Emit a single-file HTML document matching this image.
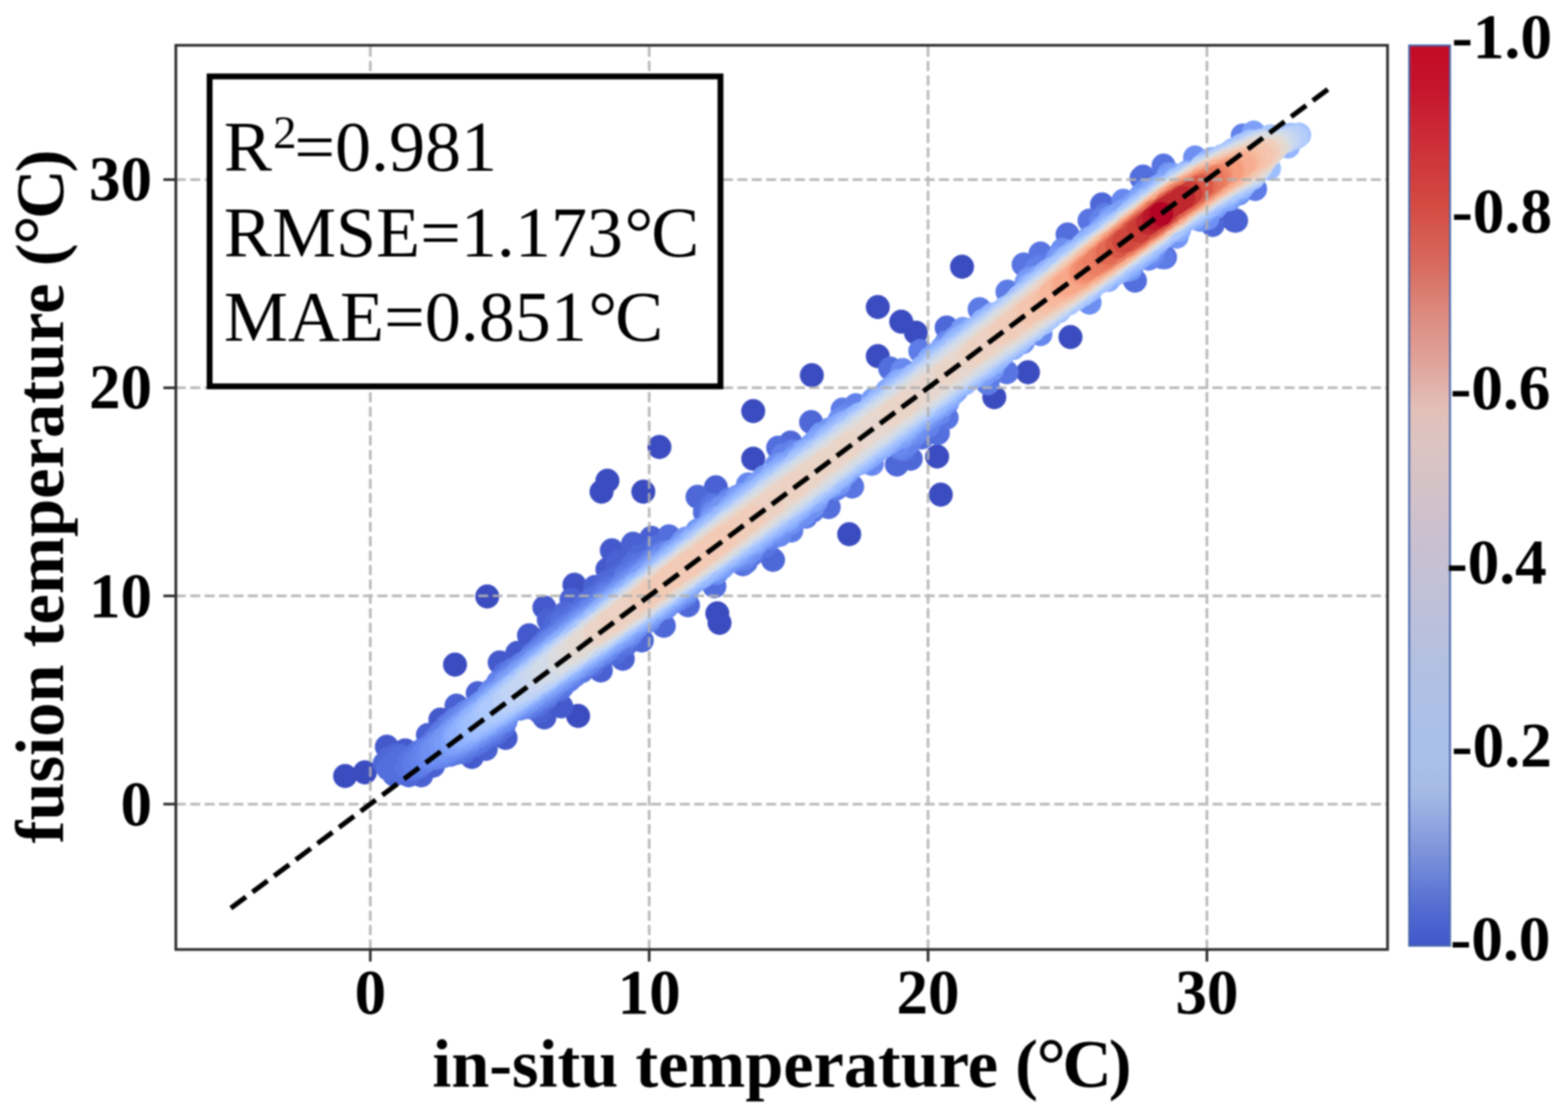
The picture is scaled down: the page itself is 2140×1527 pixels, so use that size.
<!DOCTYPE html>
<html lang="en">
<head>
<meta charset="utf-8">
<title>fusion temperature vs in-situ temperature</title>
<style>
html,body{margin:0;padding:0;background:#fff;}
body{width:2140px;height:1527px;overflow:hidden;}
svg{display:block;filter:blur(1.3px);}
text{font-family:"Liberation Serif","Times New Roman",serif;fill:#000;}
.b{font-weight:bold;}
.tk{font-size:86px;font-weight:bold;}
.lb{font-size:93.2px;font-weight:bold;}
.cb{font-size:86.5px;font-weight:bold;}
.st{font-size:98.4px;}
</style>
</head>
<body>
<svg xmlns="http://www.w3.org/2000/svg" width="2140" height="1527" viewBox="0 0 2140 1527">
<rect x="0" y="0" width="2140" height="1527" fill="#fff"/>
<g fill="none" stroke-width="32.8" stroke-linecap="round">
<path stroke="#3b4cc0" d="M471 1059h0M498 1054h0M621 907h0M789 977h0M821 671h0M829 656h0M878 671h0M979 837h0M982 850h0M1198 419h0M1230 439h0M1250 454h0M1198 486h0M1108 512h0M1028 561h0M1028 626h0M1357 542h0M1279 623h0M1284 675h0M1159 729h0M1313 364h0M1461 460h0M1685 301h0M900 610h0M665 814h0M1403 508h0"/>
<path stroke="#3f53c6" d="M784 798h0"/>
<path stroke="#445acc" d="M835 751h0M743 829h0M528 1019h0M553 1024h0M722 867h0M743 979h0M682 904h0M766 964h0M644 1033h0M829 777h0M706 891h0M601 982h0M690 1007h0"/>
<path stroke="#4961d2" d="M736 971h0M752 853h0M864 742h0M584 1003h0M1687 301h0M850 899h0M857 764h0M663 1022h0M623 963h0M820 915h0M749 846h0M812 801h0M843 772h0M780 818h0M575 1058h0M843 767h0M848 779h0M777 833h0M977 665h0M737 965h0M889 734h0M591 1045h0M652 946h0"/>
<path stroke="#4e68d8" d="M870 760h0M678 1001h0M829 794h0M952 678h0M758 851h0M771 837h0M839 892h0M1292 447h0M876 874h0M857 776h0M531 1035h0M1655 304h0M750 866h0M1504 279h0M558 1058h0M1243 626h0M1055 764h0M842 788h0M1107 576h0M886 754h0M875 761h0M538 1057h0M906 854h0M1224 634h0M1079 604h0M1655 307h0M1227 622h0M531 1037h0M541 1031h0M939 826h0M525 1042h0M539 1034h0M535 1037h0M546 1031h0M532 1040h0M543 1034h0M530 1044h0"/>
<path stroke="#536edd" d="M1131 692h0M735 961h0M767 849h0M796 832h0M548 1034h0M539 1041h0M543 1039h0M764 941h0M535 1045h0M546 1038h0M732 963h0M530 1049h0M543 1042h0M864 771h0M552 1037h0M555 1036h0M808 817h0M541 1046h0M537 1049h0M550 1042h0M784 838h0M1560 241h0M541 1049h0M546 1046h0M634 1026h0M798 826h0M1457 320h0M855 879h0M773 849h0M809 908h0M1062 611h0M962 699h0M549 1048h0M793 838h0M801 830h0M832 801h0M551 1046h0M727 965h0M844 885h0M1258 597h0M673 1001h0M822 808h0M898 746h0M810 821h0M1280 591h0M975 800h0M754 868h0M770 853h0M1558 243h0M689 919h0M819 812h0M556 1041h0M789 838h0M817 818h0M913 732h0M1014 770h0M647 1017h0M1549 383h0M1215 503h0M821 897h0M687 992h0M1270 585h0M630 1025h0"/>
<path stroke="#5875e1" d="M803 829h0M1100 705h0M972 689h0M572 1026h0M699 914h0M559 1039h0M826 810h0M766 858h0M671 1001h0M743 877h0M569 1029h0M610 990h0M853 786h0M655 1012h0M898 756h0M1397 361h0M566 1032h0M666 1004h0M864 779h0M1588 226h0M625 1027h0M787 842h0M645 1017h0M747 874h0M873 772h0M555 1048h0M602 999h0M1588 228h0M1590 351h0M1018 767h0M1292 570h0M761 863h0M564 1036h0M851 877h0M567 1048h0M746 952h0M652 1012h0M902 755h0M621 1028h0M838 803h0M561 1049h0M779 849h0M675 997h0M768 936h0M1420 346h0M619 983h0M1163 664h0M615 1030h0M600 1002h0M726 893h0M593 1009h0M794 916h0M798 836h0M1109 697h0M1487 301h0M662 1006h0M637 1020h0M558 1047h0M572 1046h0M580 1021h0M737 883h0M649 1013h0M782 847h0M565 1037h0M608 995h0M822 815h0M882 767h0M1027 756h0M657 1008h0M1045 744h0M563 1042h0M1374 508h0M618 984h0"/>
<path stroke="#5d7ce6" d="M773 855h0M777 928h0M611 1030h0M711 907h0M1233 613h0M891 763h0M623 980h0M613 991h0M579 1024h0M568 1037h0M574 1043h0M936 813h0M1508 293h0M632 1020h0M855 790h0M1080 724h0M830 810h0M721 965h0M680 931h0M565 1043h0M567 1044h0M622 1024h0M816 822h0M868 781h0M1150 559h0M571 1035h0M802 833h0M1375 398h0M751 945h0M975 693h0M598 1007h0M578 1041h0M625 1023h0M1713 258h0M994 682h0M1256 479h0M977 693h0M784 922h0M605 1032h0M1420 363h0M792 841h0M897 759h0M1146 663h0M640 1015h0M729 959h0M605 1001h0M702 915h0M1586 351h0M694 921h0M1245 598h0M629 977h0M581 1039h0M690 984h0M749 945h0M1141 667h0M1337 422h0M570 1041h0M577 1031h0M873 778h0M584 1021h0M1348 523h0M758 869h0"/>
<path stroke="#6282ea" d="M1239 606h0M622 984h0M1267 581h0M1053 734h0M769 861h0M601 1033h0M1168 553h0M743 948h0M635 972h0M865 785h0M582 1024h0M579 1029h0M636 1016h0M854 794h0M861 866h0M749 877h0M779 854h0M736 953h0M674 994h0M679 935h0M826 890h0M585 1036h0M1227 611h0M668 945h0M574 1038h0M767 863h0M671 942h0M618 989h0M806 904h0M732 956h0M631 977h0M1414 367h0M690 926h0M858 868h0M805 833h0M596 1034h0M692 925h0M653 1006h0M739 950h0M717 904h0M1696 185h0M1502 301h0M638 1014h0M818 894h0M825 818h0M1082 616h0M626 982h0M782 852h0M887 770h0M784 850h0M642 1012h0M1069 621h0M594 1014h0M846 802h0M639 970h0M669 996h0M580 1035h0M658 1003h0M732 892h0M804 905h0M754 874h0M831 886h0M765 866h0M755 939h0M618 992h0M926 818h0M587 1022h0M590 1033h0M1016 762h0M677 990h0M589 1019h0M613 1025h0M711 910h0M707 913h0M629 1018h0M807 902h0"/>
<path stroke="#6788ee" d="M1574 347h0M617 1023h0M585 1026h0M1085 619h0M798 908h0M931 739h0M920 821h0M1442 353h0M909 829h0M757 873h0M793 845h0M1190 633h0M1064 730h0M742 885h0M822 890h0M807 834h0M1232 505h0M902 759h0M597 1012h0M721 903h0M686 984h0M679 938h0M625 1019h0M672 943h0M644 1009h0M583 1033h0M650 1006h0M883 774h0M813 897h0M613 998h0M605 1028h0M886 847h0M909 754h0M665 997h0M724 900h0M1292 467h0M621 1021h0M804 837h0M674 942h0M631 979h0M660 1000h0M1533 274h0M738 949h0M811 831h0M794 910h0M778 922h0M745 944h0M1226 607h0M599 1029h0M688 982h0M831 815h0M691 980h0M1568 353h0M788 849h0M593 1018h0M684 934h0M1282 564h0M1538 279h0M768 866h0M737 891h0M755 937h0M593 1030h0M1021 661h0M1251 591h0M1019 757h0M833 814h0M863 861h0M822 823h0M1247 586h0M971 701h0M735 950h0M1152 569h0M724 957h0M1002 765h0M848 871h0M774 924h0M911 827h0M862 791h0M588 1030h0M995 685h0M1020 665h0M710 967h0M730 897h0M687 932h0M797 843h0M1018 669h0M1691 264h0M881 776h0M636 977h0M854 797h0M714 964h0M765 930h0M716 909h0M1145 576h0M844 806h0M1420 456h0M819 827h0"/>
<path stroke="#6c8ff1" d="M651 963h0M896 766h0M889 841h0M858 864h0M607 1025h0M1079 714h0M589 1028h0M665 951h0M676 988h0M983 693h0M1083 710h0M592 1023h0M1109 692h0M718 960h0M622 991h0M655 960h0M645 969h0M708 916h0M605 1008h0M679 986h0M769 926h0M1648 298h0M638 976h0M840 876h0M606 1025h0M1450 341h0M1487 413h0M952 724h0M761 931h0M613 1001h0M1146 573h0M1059 726h0M658 958h0M762 872h0M1060 635h0M1097 703h0M625 989h0M1562 261h0M695 927h0M1293 549h0M684 982h0M775 862h0M865 858h0M597 1018h0M1631 215h0M753 880h0M649 967h0M754 879h0M879 780h0M1026 751h0M653 1001h0M809 897h0M869 856h0M593 1025h0M779 859h0M774 863h0M873 785h0M1064 722h0M763 929h0M937 808h0M978 782h0M1023 753h0M800 842h0M765 871h0M817 829h0M749 884h0M868 789h0M741 944h0M760 875h0M824 886h0M783 857h0M615 1021h0M1252 584h0M693 975h0M611 1022h0M794 848h0M599 1024h0M1544 367h0M860 795h0M655 999h0M1273 565h0M604 1012h0"/>
<path stroke="#7295f4" d="M601 1016h0M1286 475h0M884 844h0M642 974h0M791 909h0M850 868h0M779 917h0M606 1009h0M783 914h0M690 932h0M1121 592h0M749 938h0M1132 586h0M609 1006h0M936 735h0M671 989h0M642 1007h0M729 951h0M1039 656h0M726 953h0M844 872h0M664 993h0M1114 684h0M896 768h0M628 1014h0M659 996h0M768 925h0M646 971h0M889 774h0M632 1012h0M1240 591h0M1638 300h0M1265 571h0M812 894h0M668 990h0M613 1003h0M703 922h0M730 900h0M1234 596h0M1006 678h0M791 851h0M1015 755h0M796 904h0M1043 651h0M985 696h0M904 830h0M771 922h0M825 824h0M854 865h0M1651 287h0M1515 297h0M718 958h0M847 807h0M789 853h0M821 887h0M792 907h0M786 911h0M842 810h0M882 780h0M830 880h0M919 752h0M639 1008h0M663 957h0M1595 238h0M895 770h0M1541 368h0M1404 381h0M911 825h0M1008 759h0M605 1014h0M1145 660h0M622 1016h0M974 704h0M837 815h0M707 919h0M902 766h0M609 1009h0M1396 467h0M774 919h0M825 883h0M834 878h0M688 977h0M922 816h0M671 950h0M1606 323h0M814 891h0M1049 728h0M606 1019h0M601 1021h0M1088 699h0M851 866h0M980 777h0M1248 583h0M668 953h0M831 821h0M699 926h0"/>
<path stroke="#779af7" d="M1112 682h0M1033 741h0M877 785h0M854 803h0M632 985h0M986 774h0M661 960h0M728 951h0M873 788h0M721 909h0M1042 734h0M754 932h0M906 827h0M1220 525h0M618 999h0M725 953h0M894 836h0M1286 553h0M629 988h0M881 845h0M1314 449h0M708 963h0M940 801h0M744 940h0M982 774h0M678 945h0M913 757h0M808 895h0M724 907h0M612 1017h0M739 894h0M956 723h0M634 1009h0M1072 712h0M683 941h0M1084 625h0M1117 597h0M714 915h0M608 1014h0M718 912h0M619 998h0M1305 460h0M888 777h0M646 1002h0M684 978h0M1056 723h0M1013 676h0M836 818h0M1225 520h0M617 1014h0M1547 278h0M1561 267h0M925 812h0M747 936h0M916 819h0M845 869h0M697 969h0M693 933h0M1035 738h0M1064 717h0M686 939h0M972 710h0M1556 268h0M1343 512h0M1568 262h0M880 784h0M908 763h0M1069 633h0M1445 352h0M806 842h0M747 889h0M1660 282h0M1401 385h0M815 835h0M742 892h0M935 805h0M1115 601h0M819 832h0M858 801h0M994 766h0M1094 617h0M1108 607h0M1678 272h0M1503 311h0M702 926h0M829 823h0M1602 239h0M851 807h0M1354 504h0M1041 656h0M657 965h0M1016 750h0M1112 603h0M862 798h0M1016 675h0M923 750h0M1191 546h0M637 982h0M870 792h0"/>
<path stroke="#7da0f9" d="M706 923h0M703 965h0M776 866h0M670 986h0M674 950h0M721 953h0M1008 681h0M765 875h0M728 904h0M1229 596h0M779 864h0M927 748h0M618 1004h0M1133 664h0M697 931h0M625 994h0M799 848h0M944 734h0M621 1012h0M998 690h0M773 869h0M736 943h0M674 984h0M734 900h0M1340 509h0M677 981h0M802 898h0M616 1013h0M781 913h0M749 934h0M917 756h0M890 836h0M1027 742h0M1351 431h0M1031 663h0M1275 559h0M712 919h0M857 859h0M984 771h0M652 969h0M1005 684h0M1592 246h0M978 707h0M1711 181h0M1569 344h0M1108 684h0M1514 303h0M1156 645h0M711 959h0M624 1010h0M1222 599h0M730 947h0M928 809h0M1530 293h0M867 852h0M967 716h0M691 937h0M788 907h0M634 1007h0M822 831h0M1003 686h0M1485 326h0M1285 550h0M834 874h0M878 844h0M756 882h0M1691 261h0M701 928h0M1146 579h0M1275 485h0M1524 294h0M863 855h0M1283 553h0M930 808h0M1116 677h0M860 857h0M1125 595h0M1415 379h0M737 941h0M1534 291h0M656 966h0M1554 273h0M1601 241h0M1079 630h0M617 1009h0M1011 753h0M1149 651h0M1069 636h0M874 847h0M804 846h0M1535 369h0M1039 733h0M1533 288h0"/>
<path stroke="#82a6fb" d="M800 898h0M1293 544h0M1559 271h0M1567 342h0M629 1007h0M775 915h0M1077 708h0M820 884h0M1057 645h0M866 797h0M1065 640h0M1002 758h0M813 839h0M754 885h0M638 1004h0M1083 701h0M1551 355h0M623 1001h0M852 862h0M1543 363h0M1666 274h0M691 971h0M657 993h0M759 926h0M960 786h0M891 778h0M1263 566h0M899 829h0M908 765h0M1079 705h0M769 874h0M646 976h0M1519 300h0M783 863h0M1506 313h0M898 772h0M1021 674h0M1080 703h0M1054 647h0M829 877h0M973 778h0M1573 259h0M734 902h0M790 904h0M1238 586h0M837 872h0M654 995h0M1302 536h0M1001 691h0M1258 570h0M720 914h0M1673 272h0M1211 533h0M1006 755h0M1182 627h0M936 742h0M756 928h0M1120 601h0M1300 468h0M833 823h0M1214 604h0M842 816h0M640 1002h0M1098 615h0M646 999h0M740 897h0M783 909h0M1277 556h0M945 796h0M665 960h0M816 886h0M831 825h0M952 791h0M1142 583h0M1039 731h0M1227 520h0M716 918h0M851 810h0M792 856h0M1269 489h0M1126 667h0M715 954h0M1205 540h0M1184 625h0M626 998h0M752 930h0M1313 458h0M839 869h0M1189 622h0M630 994h0M767 920h0M788 859h0M1305 533h0M1320 454h0M1074 636h0M641 981h0M1518 304h0M681 977h0M1330 514h0M1113 605h0M1580 255h0M1584 253h0M632 991h0M906 823h0"/>
<path stroke="#88abfd" d="M1145 652h0M1109 681h0M1579 332h0M1133 593h0M664 988h0M1030 738h0M622 1006h0M1097 688h0M979 772h0M856 806h0M1609 314h0M1497 320h0M912 763h0M1295 543h0M1196 616h0M672 955h0M635 988h0M1152 577h0M1218 529h0M896 775h0M958 787h0M1513 382h0M1630 297h0M1773 184h0M1559 349h0M1404 389h0M1056 719h0M943 796h0M1205 610h0M1283 480h0M1070 710h0M824 831h0M761 881h0M1011 683h0M1245 579h0M1016 679h0M1465 343h0M839 819h0M963 722h0M996 696h0M869 848h0M1164 571h0M1461 347h0M1234 588h0M1121 669h0M913 762h0M1119 673h0M1159 574h0M1544 359h0M967 780h0M1093 693h0M1620 235h0M1067 641h0M1114 675h0M994 697h0M916 815h0M723 913h0M764 921h0M627 1004h0M747 893h0M886 836h0M1556 276h0M850 812h0M950 791h0M1062 646h0M1141 586h0M1325 450h0M1560 273h0M794 855h0M726 946h0M1165 636h0M727 910h0M709 957h0M1657 279h0M1512 307h0M686 973h0M1033 734h0M823 880h0M946 735h0M1044 727h0M910 819h0M820 835h0M698 964h0M893 831h0M659 990h0M1071 639h0M1549 355h0M1627 297h0M1174 632h0M1644 287h0M670 957h0M1669 271h0M1051 721h0M739 901h0M1184 623h0M1632 294h0M640 984h0M770 916h0M954 729h0M1679 266h0M889 781h0M1051 654h0M1188 620h0M1200 544h0M777 870h0M636 1000h0M741 935h0M653 973h0M1302 467h0M1450 355h0"/>
<path stroke="#8fb1fe" d="M1513 379h0M751 891h0M646 996h0M943 739h0M1579 261h0M1383 475h0M1358 494h0M1044 660h0M829 828h0M1259 501h0M1136 659h0M925 754h0M1201 609h0M812 887h0M1349 500h0M1249 573h0M1430 370h0M1654 217h0M746 895h0M896 828h0M971 777h0M1172 566h0M1554 352h0M1492 323h0M805 891h0M1315 459h0M727 944h0M1075 704h0M963 782h0M774 913h0M1090 626h0M695 966h0M985 705h0M1269 559h0M859 805h0M1264 497h0M680 950h0M1252 570h0M644 981h0M628 1002h0M881 839h0M817 838h0M1524 373h0M903 823h0M1020 742h0M632 996h0M707 928h0M717 951h0M1229 523h0M768 878h0M1273 555h0M1036 666h0M1362 490h0M1427 374h0M1058 716h0M884 787h0M1545 286h0M1478 334h0M887 784h0M1151 646h0M1262 564h0M635 992h0M800 852h0M965 722h0M1601 314h0M1317 523h0M1127 599h0M1326 516h0M803 850h0M722 947h0M1425 374h0M1308 463h0M706 958h0M649 977h0M1209 604h0M1100 619h0M777 910h0M1528 370h0M1149 583h0M1027 673h0M1103 616h0M687 944h0M1093 625h0M1286 482h0M1231 586h0M1132 660h0M1233 522h0M903 772h0M1341 438h0M1273 491h0M703 960h0M872 796h0M757 887h0M1167 633h0M924 807h0M1502 318h0M743 933h0M950 735h0M975 773h0M785 865h0M1237 518h0M1087 694h0M808 846h0M801 893h0M1265 561h0M666 984h0M921 758h0M972 716h0M1435 367h0M1144 587h0M695 938h0M770 877h0M1004 691h0M1353 496h0M866 801h0"/>
<path stroke="#94b6ff" d="M1205 605h0M932 801h0M780 907h0M1169 569h0M653 990h0M1456 351h0M732 908h0M1281 549h0M1355 429h0M807 888h0M1343 503h0M1219 595h0M1081 698h0M1532 366h0M1055 652h0M847 816h0M1198 547h0M1012 747h0M1699 251h0M1614 239h0M998 757h0M795 896h0M1561 344h0M879 791h0M1696 255h0M1131 597h0M1369 483h0M988 763h0M1028 736h0M733 939h0M1042 725h0M1097 622h0M1483 333h0M1135 595h0M638 997h0M1692 256h0M963 725h0M1042 663h0M790 862h0M1570 338h0M995 759h0M792 898h0M646 993h0M918 811h0M1275 552h0M641 989h0M976 714h0M638 992h0M1234 583h0M1323 518h0M1390 468h0M1176 626h0M956 785h0M1143 650h0M1584 258h0M868 799h0M935 798h0M1032 671h0M747 929h0M1061 649h0M1154 581h0M1195 550h0M684 947h0M658 987h0M1616 302h0M1319 457h0M919 761h0M1223 591h0M710 926h0M1647 221h0M1180 623h0M933 750h0M1123 666h0M1540 360h0M841 864h0M1594 318h0M1649 282h0M1014 685h0M1310 464h0M657 972h0M980 712h0M1129 662h0M735 937h0M1604 245h0M1136 656h0M1522 373h0M1302 471h0M1516 308h0M661 985h0M651 979h0M1020 680h0M942 742h0M1643 284h0M1188 556h0M1634 291h0M1296 536h0M939 745h0M1016 743h0M746 898h0M1175 565h0M876 794h0M1259 503h0M1758 200h0M1488 331h0M1212 599h0M1675 266h0M1444 363h0M1247 512h0M931 751h0M985 765h0M984 709h0M648 991h0M1222 531h0M783 868h0M821 878h0M648 982h0M1295 476h0M665 964h0M1090 690h0M1140 592h0M1569 270h0M1034 730h0M1241 577h0M1116 670h0M990 704h0M909 769h0M814 843h0M1193 612h0M999 754h0M1082 696h0M921 808h0"/>
<path stroke="#9abbff" d="M1046 721h0M1212 539h0M1215 596h0M811 845h0M1282 487h0M1573 267h0M693 941h0M847 860h0M1171 628h0M1293 538h0M868 845h0M1397 400h0M678 975h0M901 776h0M674 977h0M1272 553h0M1227 587h0M1553 281h0M1440 366h0M1088 630h0M1565 272h0M1050 659h0M1197 609h0M1529 367h0M1220 533h0M1345 500h0M952 786h0M915 765h0M848 859h0M1147 647h0M877 839h0M1157 580h0M777 874h0M1505 383h0M1165 574h0M793 860h0M1588 256h0M1077 699h0M1408 390h0M1238 578h0M1142 591h0M1042 665h0M1272 495h0M960 781h0M852 856h0M642 993h0M1152 642h0M1524 304h0M1331 449h0M1067 706h0M929 801h0M1289 540h0M721 918h0M1017 684h0M837 825h0M669 962h0M894 827h0M1205 545h0M1116 611h0M1070 703h0M1270 497h0M1025 679h0M1611 305h0M861 849h0M1591 320h0M989 706h0M1657 274h0M1121 607h0M785 902h0M1024 736h0M684 970h0M683 971h0M1113 613h0M832 869h0M1336 506h0M1314 521h0M1063 708h0M1308 526h0M1069 645h0M865 846h0M1210 542h0M668 979h0M1264 502h0M1587 324h0M967 776h0M978 768h0M1253 566h0M829 871h0M1524 369h0M1334 507h0M1061 709h0M657 975h0M703 933h0M1353 493h0M1251 512h0M1466 347h0M1281 546h0M1180 564h0M1080 696h0M793 896h0M1161 578h0M1039 725h0M920 762h0M680 953h0M1495 326h0M800 856h0M725 915h0M1097 683h0M752 893h0M1328 453h0M1387 469h0M1486 397h0M1448 361h0M1284 543h0M1317 519h0M1621 298h0M1549 351h0M1007 747h0M1416 385h0M700 936h0M1459 353h0M1243 518h0M814 881h0M1303 529h0M689 967h0M1489 395h0M1256 508h0M1172 571h0M1126 604h0M1281 489h0M1217 537h0M884 790h0M1112 671h0M1258 507h0M1355 491h0M1147 589h0M1100 680h0M1298 532h0M1003 696h0M1014 742h0M940 793h0M1371 480h0"/>
<path stroke="#9fbfff" d="M1195 554h0M663 969h0M1165 631h0M947 740h0M1475 341h0M1033 673h0M1054 657h0M661 972h0M1547 353h0M1665 269h0M1682 205h0M1608 308h0M962 778h0M1645 282h0M1604 310h0M1184 562h0M1424 380h0M1086 634h0M880 835h0M1571 334h0M1098 625h0M1184 617h0M997 702h0M1133 599h0M1247 516h0M856 852h0M1189 612h0M715 924h0M1206 600h0M826 872h0M1093 685h0M1394 403h0M1154 584h0M1563 340h0M647 988h0M1053 714h0M971 722h0M1339 445h0M1762 184h0M1334 449h0M657 983h0M1066 649h0M1298 477h0M1109 673h0M832 830h0M836 865h0M805 853h0M980 765h0M1228 530h0M1180 619h0M1262 558h0M1349 438h0M1130 603h0M1081 638h0M809 849h0M1095 628h0M1455 357h0M667 978h0M1008 693h0M1426 379h0M1411 390h0M1393 464h0M845 859h0M1358 488h0M1137 651h0M946 788h0M1029 677h0M1242 573h0M1476 341h0M1056 711h0M866 804h0M1543 290h0M765 884h0M956 734h0M959 731h0M1674 264h0M1123 662h0M730 912h0M999 700h0M1509 316h0M840 825h0M908 773h0M1567 337h0M1292 482h0M1337 502h0M1679 261h0M674 961h0M806 886h0M1326 456h0M676 958h0M1217 591h0M992 757h0M1204 548h0M1465 349h0M1003 749h0M845 821h0M885 832h0M977 717h0M1379 473h0M1017 739h0M1060 709h0M1177 568h0M1048 663h0M1148 643h0M1311 468h0M1331 507h0M1541 355h0M667 968h0M1598 314h0M1515 312h0M1606 245h0M942 790h0M1110 618h0M1693 199h0M1698 197h0M1113 669h0M925 759h0M1374 476h0M1077 641h0M1306 472h0M761 887h0M1012 691h0M762 917h0M1732 230h0M1198 605h0M779 873h0M1541 293h0M1311 521h0M1007 746h0M1470 346h0M691 964h0M1296 479h0M1391 405h0M1501 322h0M825 837h0M1103 623h0M680 970h0M1420 384h0M1159 582h0M966 727h0M899 821h0M652 985h0M1329 508h0M1049 716h0M1361 485h0M749 926h0M892 785h0M1193 557h0M1241 520h0M739 905h0M881 834h0M1481 399h0M802 888h0M1221 588h0M1364 427h0M931 754h0M1654 275h0M1371 421h0M905 817h0"/>
<path stroke="#a5c3fe" d="M1537 295h0M1264 556h0M1478 402h0M1400 458h0M1104 676h0M1619 238h0M1582 326h0M1445 425h0M1129 657h0M1470 407h0M851 817h0M1425 440h0M1025 681h0M671 974h0M685 951h0M752 895h0M797 859h0M782 871h0M889 828h0M1203 601h0M1276 495h0M786 899h0M1707 193h0M1468 348h0M1106 621h0M703 956h0M1629 291h0M1411 450h0M1156 636h0M1117 665h0M1519 371h0M848 819h0M1500 385h0M1423 441h0M1466 409h0M1435 373h0M1178 620h0M913 770h0M817 878h0M1579 327h0M1441 368h0M1508 379h0M1059 656h0M1133 653h0M1430 435h0M869 841h0M1710 243h0M809 883h0M914 810h0M1386 411h0M1692 201h0M1519 310h0M1419 443h0M1171 574h0M1195 606h0M861 810h0M935 794h0M1037 673h0M662 978h0M1153 587h0M1042 669h0M1245 569h0M676 971h0M1075 644h0M1232 528h0M758 919h0M1190 559h0M786 869h0M972 769h0M1398 402h0M882 793h0M994 706h0M1346 495h0M1530 302h0M1348 441h0M921 804h0M1432 376h0M1227 532h0M754 922h0M695 960h0M1062 653h0M1368 425h0M1686 256h0M976 721h0M701 957h0M1223 585h0M1433 433h0M1384 413h0M896 783h0M1079 693h0M1380 416h0M1677 209h0M1459 414h0M658 980h0M672 965h0M1452 361h0M969 771h0M686 965h0M972 724h0M1137 650h0M1245 519h0M1081 640h0M1586 260h0M1493 389h0M1017 689h0M1032 726h0M1161 631h0M1497 386h0M1474 403h0M1534 299h0M965 773h0M995 753h0M1395 459h0M708 952h0M1221 537h0M1773 184h0M901 780h0M1028 729h0"/>
<path stroke="#aac7fd" d="M799 890h0M1668 213h0M1700 248h0M1560 340h0M1092 632h0M767 912h0M1042 719h0M1690 253h0M1325 510h0M1662 217h0M1417 388h0M1282 491h0M682 956h0M716 947h0M684 954h0M1600 311h0M1640 227h0M1114 616h0M710 951h0M1566 275h0M896 821h0M1142 596h0M1373 475h0M1447 365h0M1366 480h0M1549 288h0M1551 346h0M1319 513h0M720 922h0M1343 496h0M702 937h0M1232 578h0M839 861h0M699 940h0M718 945h0M1455 416h0M1373 422h0M1440 371h0M929 759h0M1448 420h0M1555 344h0M1484 338h0M864 808h0M1603 308h0M857 814h0M1660 269h0M1022 685h0M1325 459h0M1512 316h0M725 941h0M1269 550h0M775 906h0M1126 608h0M997 705h0M775 878h0M1542 294h0M795 892h0M1734 186h0M1289 487h0M940 750h0M688 951h0M1009 742h0M1139 599h0M1271 500h0M911 810h0M1200 554h0M1601 251h0M1554 285h0M1088 636h0M1271 548h0M665 974h0M821 842h0M1657 270h0M1183 566h0M1291 534h0M1086 637h0M691 949h0M1401 454h0M1060 705h0M792 865h0M1594 256h0M1316 467h0M1297 529h0M879 797h0M1096 680h0M1038 721h0M955 738h0M1655 221h0M813 848h0M1471 348h0M822 841h0M693 959h0M816 846h0M1338 499h0M1049 665h0M1254 561h0M744 903h0M1102 675h0M1235 575h0M1287 489h0M1306 522h0M1609 247h0M888 790h0M1282 540h0M1218 540h0M1275 545h0M1645 226h0M1212 592h0M1451 364h0M1679 258h0M1538 297h0M1253 514h0M952 741h0M1704 244h0M764 913h0M1561 281h0M765 886h0M1696 248h0M1354 487h0M1380 469h0M796 862h0M1021 687h0"/>
<path stroke="#afcafc" d="M1304 476h0M935 754h0M1403 400h0M1526 363h0M1633 286h0M695 946h0M1479 397h0M1287 536h0M681 965h0M1556 284h0M1677 259h0M1597 254h0M1343 446h0M1386 465h0M1618 295h0M746 925h0M907 813h0M1413 445h0M1678 210h0M1184 612h0M830 835h0M670 970h0M734 933h0M827 869h0M1704 198h0M1585 320h0M1614 244h0M970 727h0M1227 581h0M1275 498h0M1413 393h0M1611 300h0M1527 362h0M1620 294h0M1534 357h0M1083 689h0M1463 409h0M1360 434h0M1434 377h0M1430 432h0M1618 242h0M1489 336h0M1185 611h0M1410 396h0M698 955h0M1683 255h0M1256 558h0M1363 431h0M1424 384h0M873 802h0M1158 632h0M1335 453h0M1384 466h0M1105 672h0M1377 420h0M1070 650h0M1147 594h0M855 849h0M680 962h0M1461 357h0M1477 345h0M1207 595h0M1555 341h0M1502 380h0M1675 212h0M1080 643h0M1105 625h0M1625 290h0M1531 304h0M738 931h0M1109 622h0M1057 660h0M1406 399h0M1596 311h0M1294 530h0M1770 187h0M1583 265h0M1580 267h0M1200 600h0M1108 669h0M1613 298h0M1025 730h0M1219 585h0M1505 378h0M1168 578h0M1088 684h0M1590 260h0M1260 510h0M737 910h0M1064 702h0M682 960h0M693 949h0M1605 250h0M1592 314h0M1309 519h0M1437 376h0M1216 543h0M1237 527h0M1168 624h0M1010 696h0M1113 619h0M1668 262h0M1159 630h0M1214 589h0M1190 607h0M1450 418h0M1394 458h0M1003 702h0M710 934h0M1261 554h0M676 967h0M892 823h0M1319 466h0M1353 439h0M1605 304h0M909 775h0M1527 307h0M1234 530h0M1131 606h0M946 784h0"/>
<path stroke="#b5cdfa" d="M735 911h0M717 927h0M1331 457h0M876 801h0M1123 657h0M1047 668h0M1636 282h0M1096 677h0M722 940h0M1279 541h0M1035 722h0M1658 221h0M1308 475h0M949 744h0M998 748h0M1324 463h0M943 786h0M913 773h0M715 930h0M1089 683h0M728 936h0M985 757h0M986 716h0M1342 449h0M1050 711h0M747 924h0M1349 489h0M1571 275h0M1367 476h0M1587 317h0M1546 294h0M755 895h0M1521 312h0M820 873h0M770 884h0M1164 583h0M704 949h0M1201 555h0M940 788h0M1375 471h0M1172 620h0M1635 233h0M851 852h0M1172 577h0M1767 187h0M1543 349h0M1188 565h0M1213 546h0M1162 627h0M1703 199h0M1689 206h0M1540 352h0M1350 443h0M944 749h0M1314 514h0M952 742h0M1378 469h0M1125 611h0M1016 734h0M1242 568h0M1238 570h0M708 937h0M1250 519h0M1301 524h0M1073 694h0M1154 590h0M1720 192h0M1053 708h0M1008 699h0M1244 524h0M1138 602h0M987 715h0M1319 510h0M1080 689h0M1709 240h0M1577 271h0M1149 637h0M974 764h0M1204 595h0M1405 449h0M1696 203h0M1019 732h0M1356 439h0M1549 345h0M1667 217h0M1026 727h0M927 797h0M1268 505h0M857 847h0M727 920h0M918 803h0M956 777h0M1434 428h0M699 952h0M982 759h0M1503 327h0M964 733h0M1344 492h0M892 789h0M1054 664h0M1257 514h0M847 854h0M1074 693h0"/>
<path stroke="#bad0f8" d="M960 736h0M1508 374h0M1121 614h0M691 954h0M1150 593h0M1713 195h0M1232 533h0M740 927h0M1426 434h0M923 766h0M1341 494h0M1144 640h0M1526 309h0M782 899h0M1422 436h0M1001 745h0M725 923h0M1244 565h0M1337 454h0M1498 381h0M1469 402h0M1205 553h0M1640 279h0M734 914h0M1142 641h0M712 944h0M979 761h0M1302 481h0M1659 267h0M1138 644h0M1382 419h0M1648 274h0M889 824h0M1358 481h0M1486 390h0M1103 629h0M1210 550h0M1712 238h0M1069 696h0M1045 713h0M1480 344h0M721 927h0M1227 578h0M1389 414h0M1191 564h0M1442 422h0M1247 563h0M707 946h0M1419 438h0M1463 406h0M1265 509h0M830 865h0M906 779h0M1428 384h0M689 957h0M848 823h0M1286 493h0M1664 219h0M1399 406h0M1638 231h0M1762 188h0M750 920h0M1643 229h0M719 939h0M1492 335h0M883 828h0M1076 648h0M1626 239h0M1334 499h0M1476 397h0M729 933h0M959 774h0M1411 444h0M1099 632h0M1071 652h0M1482 392h0M704 943h0M1546 346h0M742 908h0M1210 590h0M1229 575h0M901 815h0M1396 454h0M1176 575h0M993 712h0M1354 484h0M1534 354h0M1306 478h0M1672 215h0M1561 335h0M888 793h0M1039 676h0M1082 686h0M925 797h0M1135 605h0M835 861h0M770 907h0M1163 585h0M939 753h0M730 932h0M1437 425h0M1369 430h0M1127 652h0M1111 664h0M1264 550h0"/>
<path stroke="#bfd3f6" d="M701 946h0M1414 441h0M996 709h0M1337 496h0M899 785h0M1224 540h0M934 791h0M1314 473h0M1012 736h0M1254 557h0M849 823h0M1497 332h0M1380 421h0M1422 389h0M1459 361h0M1715 236h0M1250 560h0M1087 682h0M1015 695h0M1045 672h0M839 830h0M1195 562h0M1230 536h0M773 882h0M736 928h0M716 933h0M699 948h0M1118 658h0M1029 684h0M1390 458h0M1516 368h0M1268 546h0M1326 504h0M1295 487h0M1155 630h0M858 816h0M1312 514h0M1330 501h0M1176 614h0M1373 427h0M1572 327h0M732 919h0M1399 407h0M1711 197h0M1063 699h0M1515 318h0M1575 324h0M1188 606h0M1281 536h0M810 878h0M1664 263h0M1669 260h0M913 806h0M1233 572h0M952 778h0M760 913h0M1384 462h0M1007 739h0M754 917h0M1095 636h0M722 936h0M1023 689h0M716 939h0M1160 588h0M742 924h0M784 896h0M1193 601h0M1277 501h0M884 797h0M801 861h0M739 925h0M1056 704h0M1511 371h0M1363 477h0M1206 592h0M834 835h0M1290 529h0M1566 280h0M1466 356h0M1059 701h0M1199 559h0M1222 580h0M1265 548h0M1322 506h0M875 833h0M804 883h0M1324 466h0M1653 225h0M1195 600h0M1285 533h0M1700 243h0M1558 286h0M1299 485h0M1686 210h0M1152 631h0M808 880h0M978 724h0M712 938h0M1355 482h0M1130 611h0M1017 694h0M870 807h0M1185 607h0M1175 615h0M1610 298h0M1317 471h0M1581 269h0M1171 581h0M1113 661h0M1358 440h0M1395 411h0"/>
<path stroke="#c4d5f3" d="M1408 401h0M999 744h0M992 749h0M1387 417h0M1644 275h0M1129 649h0M1415 395h0M873 834h0M1265 511h0M1271 507h0M1152 594h0M1579 321h0M1608 251h0M1399 451h0M752 902h0M830 839h0M720 931h0M755 899h0M1030 722h0M741 911h0M869 837h0M1691 247h0M766 890h0M1036 680h0M1370 471h0M1320 469h0M860 843h0M1622 289h0M1122 654h0M1634 281h0M1218 546h0M1084 644h0M1446 417h0M762 893h0M1048 671h0M1688 249h0M1537 302h0M1147 635h0M777 900h0M1412 398h0M1293 490h0M1053 668h0M880 829h0M1406 445h0M1092 677h0M934 759h0M1035 681h0M1280 500h0M764 908h0M976 726h0M747 906h0M910 807h0M966 734h0M966 767h0M989 716h0M1693 246h0M1364 435h0M1127 614h0M710 941h0M1454 366h0M1377 426h0M1554 290h0M1284 497h0M1000 708h0M1640 232h0M1489 386h0M1066 658h0M1556 337h0M1005 705h0M1168 584h0M815 874h0M1334 459h0M932 761h0M856 819h0M1095 674h0M1032 720h0M1697 205h0M1499 332h0M1564 283h0M1089 642h0M789 892h0M1148 598h0M1210 553h0M1004 740h0M1573 276h0M895 817h0M803 860h0M1074 690h0M916 774h0M1459 407h0M1088 679h0M1520 363h0M1445 374h0M921 770h0M1630 283h0M1512 322h0M1456 409h0M899 815h0M1349 448h0M1144 601h0M1757 192h0M1055 667h0M1449 371h0M761 910h0M1624 242h0"/>
<path stroke="#c9d7f0" d="M1064 660h0M968 766h0M810 855h0M1341 454h0M1094 638h0M725 928h0M1212 585h0M814 852h0M1016 697h0M1275 505h0M1406 404h0M1448 414h0M824 867h0M731 923h0M1343 453h0M864 839h0M1223 543h0M1181 575h0M986 752h0M1380 463h0M1646 273h0M836 835h0M787 874h0M1365 473h0M1044 676h0M1427 429h0M1509 371h0M1485 343h0M1271 541h0M749 916h0M1618 291h0M1135 643h0M1443 376h0M1374 467h0M1305 516h0M1651 269h0M776 899h0M1009 702h0M844 829h0M1632 237h0M1693 208h0M903 784h0M1132 645h0M1269 543h0M1070 656h0M1104 632h0M983 722h0M874 805h0M753 904h0M1702 240h0M1077 651h0M791 871h0M1636 235h0M1165 620h0M766 892h0M1439 420h0M1726 194h0M1321 504h0M1202 592h0M1274 538h0M1191 568h0M1236 566h0M1363 438h0M728 928h0M1664 261h0M1021 726h0M1427 389h0M1751 193h0M1615 293h0M928 765h0M1139 639h0M1219 579h0M1657 225h0M1242 531h0M1034 717h0M946 780h0M1263 515h0M1676 216h0M826 843h0"/>
<path stroke="#cdd9ec" d="M1469 398h0M1519 317h0M1233 537h0M1255 552h0M1168 617h0M1232 538h0M747 909h0M1076 652h0M1122 619h0M1248 526h0M1493 382h0M1099 669h0M793 870h0M1185 573h0M935 788h0M945 752h0M1153 628h0M1256 520h0M1437 421h0M746 917h0M1298 489h0M1239 564h0M1038 681h0M753 913h0M1178 609h0M1080 683h0M1318 474h0M1059 665h0M1704 203h0M1102 667h0M1017 729h0M1345 486h0M756 911h0M1117 655h0M1207 557h0M1300 518h0M738 919h0M1239 533h0M1295 491h0M1109 629h0M1176 580h0M1261 517h0M1252 524h0M1709 236h0M1068 692h0M1026 690h0M1217 550h0M973 730h0M1313 509h0M1083 648h0M1248 557h0M1400 410h0M795 886h0M1113 626h0M1285 529h0M1305 483h0M735 922h0M1403 445h0M1749 194h0M1198 594h0M1716 198h0M1222 576h0M1327 499h0M1647 230h0M1312 479h0M755 903h0M768 902h0M1013 700h0M972 762h0M1546 297h0M790 889h0M1619 246h0M1681 214h0M1330 497h0M1136 610h0M1354 446h0M1628 241h0M1707 202h0M881 801h0M895 790h0M1271 539h0M1357 477h0M1350 482h0M1294 522h0M837 857h0M746 911h0M1583 316h0M1420 433h0M1119 622h0M867 812h0M807 859h0M777 884h0M1139 608h0M1337 491h0M1284 501h0M1121 652h0M1117 624h0M1420 395h0M1156 625h0M1242 561h0M1569 280h0M1178 579h0M1183 576h0M1042 710h0M1161 621h0M958 743h0M905 809h0M1387 456h0M1677 253h0M1316 506h0M1190 599h0M781 881h0M1330 465h0M1562 331h0M1206 559h0M1038 713h0M1291 496h0M1592 263h0M1542 346h0M863 815h0M1110 659h0M771 900h0M1552 293h0M915 801h0M1200 564h0M1297 520h0M1259 547h0M1245 558h0M1229 570h0M987 720h0M1473 354h0"/>
<path stroke="#d2dbe8" d="M1541 301h0M1028 721h0M995 714h0M1159 594h0M1253 551h0M941 782h0M1367 436h0M1222 548h0M1282 530h0M1309 511h0M1375 464h0M758 908h0M1175 609h0M1730 195h0M1051 703h0M1167 615h0M991 747h0M983 753h0M742 915h0M1393 416h0M1224 546h0M1586 268h0M1140 636h0M1194 568h0M1187 574h0M1696 242h0M770 891h0M1247 529h0M774 888h0M1507 327h0M1692 209h0M1068 660h0M979 756h0M1232 566h0M1626 284h0M1046 707h0M762 898h0M1208 584h0M1340 488h0M761 900h0M825 864h0M1144 605h0M820 849h0M784 879h0M1315 478h0M1323 500h0M797 883h0M1064 694h0M1616 248h0M803 863h0M1502 331h0M1173 584h0M779 894h0M1163 618h0M1200 590h0M1082 680h0M1338 459h0M1322 472h0M1215 579h0M1268 514h0M1334 492h0M1095 641h0M1170 587h0M1614 250h0M1128 645h0M1066 662h0M1303 488h0M1229 543h0M1194 594h0M1669 220h0M1588 266h0M1145 632h0M1161 594h0M799 867h0M1484 345h0M1101 637h0M1025 722h0M1289 524h0M1528 355h0M1490 341h0M1122 622h0M1227 569h0M1451 410h0M1568 327h0M944 754h0M1480 348h0M1091 673h0M1638 276h0M975 758h0M1404 408h0M1104 662h0M1717 231h0M1276 509h0M1129 643h0M1044 678h0M1535 306h0M1185 601h0M1148 629h0M1134 639h0M1288 500h0M807 861h0M1202 564h0M1263 542h0M1310 482h0M1169 612h0M1284 527h0M1272 512h0M1211 581h0M929 790h0M1138 636h0M1077 683h0M1272 536h0M824 847h0M866 836h0M1086 676h0M1603 256h0M839 855h0M1424 393h0M966 737h0M1063 665h0M884 823h0M912 779h0M1159 620h0M1570 325h0M1428 426h0M1111 657h0M995 744h0M1100 638h0M1262 520h0M1353 449h0M1596 261h0M1155 599h0M1408 405h0M1125 621h0M1405 442h0M1219 552h0M1167 590h0M1128 619h0M821 866h0M1244 534h0M1705 237h0"/>
<path stroke="#d6dce4" d="M1395 415h0M846 849h0M1734 197h0M1525 357h0M1182 602h0M1009 733h0M1458 366h0M1093 644h0M1148 605h0M1202 587h0M1255 547h0M1483 387h0M1538 304h0M1140 633h0M959 769h0M979 728h0M1282 506h0M1266 518h0M873 830h0M892 817h0M962 741h0M1259 523h0M878 805h0M905 785h0M1737 197h0M785 889h0M857 841h0M1359 473h0M783 890h0M1275 532h0M919 798h0M1266 539h0M1113 630h0M1099 665h0M937 785h0M1351 478h0M1315 503h0M1242 556h0M1672 255h0M1305 510h0M1249 531h0M1555 335h0M1656 264h0M1295 517h0M1236 561h0M1122 646h0M1432 422h0M1668 257h0M1382 457h0M1216 556h0M1375 432h0M1253 529h0M1153 623h0M1088 648h0M1201 567h0M1151 604h0M1727 198h0M1476 352h0M1475 392h0M812 871h0M1212 559h0M969 736h0M1364 441h0M1056 671h0M1192 574h0M1163 595h0M1151 624h0M1367 467h0M1177 585h0M1012 730h0M1059 669h0M1237 540h0M1446 376h0M1300 493h0M1095 667h0M1085 651h0M983 725h0M1341 484h0M1687 213h0M1416 434h0M1495 338h0M1344 458h0M1389 452h0M926 792h0M776 889h0M845 831h0M1721 199h0M762 903h0M1383 426h0M1534 350h0M1329 470h0M1060 694h0M1335 488h0M1036 687h0M1188 596h0M1196 590h0M1142 610h0M1159 598h0M1051 701h0M1394 449h0M923 794h0M1139 613h0M1350 453h0M1746 197h0M938 760h0M1311 505h0M1721 227h0M842 851h0M1601 302h0M1346 456h0M1177 604h0M1362 469h0M916 777h0M1018 725h0M909 782h0M1371 436h0M1357 447h0M1064 690h0M1290 520h0M1119 628h0M1112 632h0M1332 469h0M850 828h0"/>
<path stroke="#dadce0" d="M1076 658h0M855 842h0M781 885h0M1526 314h0M1102 661h0M1017 726h0M1535 349h0M985 749h0M1341 462h0M1183 582h0M851 845h0M1520 360h0M1167 593h0M1680 249h0M765 901h0M1257 526h0M1343 482h0M1149 606h0M1458 404h0M1134 617h0M842 834h0M768 896h0M1604 299h0M1415 401h0M1041 707h0M1544 343h0M1145 609h0M1033 690h0M1224 568h0M1166 611h0M1223 553h0M1612 293h0M974 733h0M918 776h0M770 894h0M1167 610h0M1241 539h0M1305 491h0M1718 200h0M1683 248h0M1297 513h0M1221 569h0M1501 373h0M893 794h0M1462 364h0M1238 557h0M799 878h0M1712 203h0M1452 372h0M1057 695h0M1327 473h0M1500 374h0M1091 668h0M1053 676h0M1095 646h0M1412 435h0M1376 459h0M828 846h0M1279 511h0M1257 543h0M996 741h0M1213 575h0M1531 311h0M1331 489h0M1071 662h0M1274 530h0M1399 444h0M1385 426h0M1283 523h0M953 772h0M834 841h0M1008 708h0M1300 511h0M1108 637h0M1311 486h0M1273 516h0M803 875h0M1106 656h0M822 851h0M1197 572h0M1602 258h0M835 854h0M789 885h0M903 808h0M1253 531h0M1434 386h0M1113 651h0M1338 465h0M948 775h0M1028 716h0M1391 421h0M1647 269h0M1074 661h0M1210 563h0M1653 265h0M1179 600h0M1069 685h0M1358 470h0M955 770h0M1730 200h0M1144 627h0M1658 227h0M1323 494h0M830 857h0M1082 675h0M1144 626h0M1246 550h0M1407 438h0M1345 479h0M1362 446h0M1380 431h0M1315 484h0M1236 544h0M1123 643h0M964 764h0M1308 490h0M1231 548h0M1176 588h0M1001 714h0M1548 339h0M1724 200h0M1045 682h0M1443 380h0M1205 581h0M1170 606h0M1664 225h0M840 837h0M1047 681h0M828 858h0M878 825h0M807 872h0M1550 297h0M1003 713h0M1299 497h0M796 880h0M1158 602h0M1030 693h0M1481 387h0M1002 735h0M869 831h0M1200 584h0M1215 572h0M1327 491h0M1189 592h0M1132 636h0M1127 624h0M816 857h0M814 868h0M1073 681h0M1040 686h0M862 836h0M793 881h0M1371 461h0M1550 338h0M1066 686h0M1294 515h0M1578 276h0M818 855h0M997 717h0M857 824h0M1081 657h0M989 724h0M1287 520h0M1320 480h0M791 878h0"/>
<path stroke="#dfdbd9" d="M1192 577h0M1043 704h0M1710 204h0M1230 561h0M1206 567h0M978 753h0M1135 618h0M1271 531h0M1463 399h0M933 765h0M1067 667h0M1031 713h0M1293 501h0M1026 696h0M953 750h0M1104 641h0M1352 473h0M890 798h0M1378 456h0M1098 646h0M956 748h0M1373 437h0M1292 503h0M801 870h0M1277 526h0M1396 444h0M1319 496h0M1351 455h0M1120 644h0M900 809h0M1315 499h0M1243 539h0M1253 544h0M1250 546h0M881 822h0M1267 533h0M1679 218h0M1301 509h0M882 804h0M914 798h0M950 753h0M1473 356h0M1261 526h0M1242 552h0M1188 580h0M1397 418h0M1035 709h0M1019 702h0M1385 451h0M1288 506h0M1083 672h0M1007 730h0M898 793h0M1222 556h0M1596 304h0M1110 651h0M1697 210h0M1322 480h0M901 790h0M1138 617h0M1047 700h0M1101 644h0M1247 537h0M1131 622h0M1561 289h0M1433 420h0M1715 229h0M796 874h0M1688 244h0M1024 699h0M1738 200h0M1406 437h0M1626 244h0M1436 386h0M1691 242h0M860 822h0M1370 441h0M966 761h0M1377 435h0M1420 399h0M961 745h0M1585 312h0M1393 446h0M1675 220h0M1038 689h0M1355 453h0M947 756h0M1115 647h0M778 890h0M1369 461h0M1000 735h0M1423 396h0M1442 381h0M876 810h0M1181 587h0M1576 318h0M1275 517h0M1414 405h0M1269 522h0M1055 693h0M1226 563h0M1229 551h0M887 817h0M1472 393h0M1452 406h0M812 861h0M1552 296h0M951 771h0M1056 692h0M1339 467h0M1487 382h0M1076 676h0M1174 592h0M1251 535h0M1653 231h0M1127 637h0M1525 316h0M1160 612h0M1050 697h0M1211 565h0M1283 511h0M980 750h0M1210 574h0M927 772h0M1181 596h0M855 827h0M1418 428h0M1234 557h0M1468 395h0"/>
<path stroke="#e3d9d3" d="M1345 462h0M1347 475h0M1396 420h0M1065 685h0M944 759h0M922 792h0M1388 427h0M1066 670h0M1314 498h0M1498 338h0M1388 447h0M1009 728h0M1208 576h0M788 882h0M1712 230h0M1119 633h0M908 802h0M1096 660h0M955 768h0M925 773h0M1137 629h0M1362 464h0M1120 632h0M1618 250h0M1196 584h0M1517 323h0M822 861h0M1469 360h0M833 845h0M1258 538h0M1742 201h0M1091 652h0M1214 571h0M895 811h0M1360 466h0M931 769h0M995 721h0M1001 717h0M1093 662h0M1162 601h0M1015 707h0M879 808h0M973 754h0M1061 687h0M1155 607h0M1083 658h0M1170 596h0M1425 423h0M1409 410h0M904 804h0M1334 472h0M1570 283h0M1170 603h0M943 776h0M1201 580h0M1364 447h0M1489 380h0M1052 681h0M934 782h0M1289 515h0M849 842h0M1148 620h0M1592 306h0M1309 493h0M1265 526h0M1067 682h0M1517 360h0M1660 259h0M1071 679h0M1111 648h0M1438 415h0M1395 442h0M1006 714h0M1235 555h0M1333 473h0M1401 438h0M873 813h0M1467 362h0M1325 480h0M1219 560h0M1312 490h0M1134 630h0M1366 446h0M1351 459h0M818 863h0M795 877h0M1125 629h0M916 795h0M1493 377h0M1088 655h0M1001 733h0M1487 346h0M1294 511h0M845 845h0M1337 480h0M867 830h0M987 743h0M1382 433h0M1720 204h0M1588 309h0M1699 236h0M956 766h0M1078 663h0M1012 710h0M1087 667h0M1021 717h0M1429 393h0M1101 655h0M966 743h0M1317 487h0M1738 206h0M825 852h0M1715 205h0M984 730h0M1317 494h0M1181 594h0M871 827h0M1172 601h0M865 820h0M1021 704h0M980 733h0M808 869h0M1166 600h0M1197 577h0M1039 703h0M1403 415h0M1722 222h0M1558 331h0M1260 530h0M1255 534h0M1414 429h0M1420 425h0M871 815h0M954 753h0M1733 211h0M1072 667h0M1144 622h0M1214 564h0M1023 715h0M841 847h0M1410 432h0M1277 523h0M1192 585h0M1192 581h0M1302 505h0M990 740h0M1311 498h0M875 824h0M1558 292h0M1726 219h0"/>
<path stroke="#e7d7ce" d="M1088 665h0M1514 326h0M1154 614h0M1244 547h0M1382 449h0M969 756h0M946 773h0M1187 589h0M887 803h0M1392 426h0M1061 675h0M1241 545h0M1096 651h0M992 725h0M1059 677h0M1645 235h0M1056 679h0M1148 613h0M1706 232h0M1185 587h0M1012 723h0M1200 575h0M1671 223h0M930 784h0M1264 532h0M1672 252h0M1246 545h0M1574 319h0M1155 608h0M1032 697h0M1116 637h0M1151 616h0M1560 329h0M1678 248h0M1026 712h0M1607 295h0M1278 517h0M1736 206h0M1107 644h0M1329 485h0M1036 694h0M838 849h0M1702 210h0M1376 440h0M1385 432h0M1378 452h0M1268 528h0M1017 719h0M1306 496h0M1344 474h0M1138 626h0M1728 216h0M851 840h0M1633 276h0M1261 534h0M1429 419h0M1459 400h0M1366 460h0M1222 559h0M1204 573h0M1166 604h0M1305 502h0M926 787h0M808 867h0M1398 439h0M1028 700h0M1207 571h0M1232 555h0M1360 453h0M1183 591h0M1353 459h0M1177 596h0M882 818h0M831 853h0M1462 367h0M1190 583h0M1448 407h0M1445 409h0M1111 641h0M891 812h0M907 789h0M1227 556h0M969 743h0M1075 674h0M1284 513h0M1085 666h0M931 771h0M1299 502h0M1727 204h0M1344 467h0M1511 364h0M1198 580h0M1333 481h0M1440 412h0M1305 498h0M1340 477h0M1078 671h0M903 792h0M1359 455h0M1282 515h0M1250 540h0M1032 707h0M1507 331h0M1066 673h0M1707 209h0M1132 627h0M943 763h0M845 838h0M852 832h0M1103 652h0M1271 524h0M895 799h0M1024 703h0M1398 423h0M924 788h0M1029 709h0M1145 617h0M1053 690h0M1668 225h0M1297 504h0M894 809h0M1254 538h0M1289 511h0M996 734h0M1719 222h0M909 788h0M1220 563h0M1711 227h0M1322 485h0M1048 686h0M898 796h0"/>
<path stroke="#ead4c8" d="M1372 454h0M1615 288h0M1238 549h0M1373 444h0M1409 414h0M1414 409h0M1081 663h0M927 775h0M988 730h0M1564 325h0M1216 565h0M827 852h0M1015 710h0M1602 298h0M1234 552h0M1504 368h0M1429 395h0M1696 214h0M1687 217h0M974 751h0M1153 612h0M1100 650h0M1125 632h0M1634 241h0M1120 636h0M975 739h0M995 725h0M1355 465h0M1325 486h0M1415 426h0M1705 211h0M1351 468h0M864 830h0M1436 390h0M1695 237h0M1105 646h0M1334 476h0M1421 403h0M825 856h0M848 835h0M1134 626h0M1161 606h0M1594 266h0M1456 373h0M1129 631h0M1293 508h0M936 778h0M1060 679h0M1342 470h0M1381 438h0M1426 419h0M1348 465h0M949 759h0M1007 725h0M1001 721h0M1401 435h0M1412 428h0M1522 320h0M1112 643h0M1106 648h0M814 863h0M1395 426h0M1407 430h0M1062 677h0M861 826h0M1369 455h0M858 828h0M1048 693h0M959 751h0M1384 446h0M952 757h0M1359 462h0M1011 714h0M1351 463h0M1479 385h0M879 819h0M1651 264h0M1094 655h0M1405 432h0M1072 671h0M1719 207h0M982 744h0M856 835h0M1360 461h0M1703 232h0M866 822h0M918 783h0M1117 639h0M1321 488h0M1722 219h0M1426 399h0M1714 209h0M1090 660h0M871 818h0M894 800h0M1420 422h0M1419 406h0M1018 709h0M1689 217h0M1058 685h0M1388 442h0M966 747h0M1014 718h0M1593 304h0M1548 301h0M1630 244h0M940 766h0M1430 416h0"/>
<path stroke="#edd1c2" d="M1042 696h0M1508 365h0M835 847h0M1039 699h0M1467 393h0M1336 476h0M1331 480h0M1429 397h0M839 846h0M1481 353h0M899 804h0M1087 661h0M1580 276h0M1463 395h0M1004 725h0M964 756h0M1030 702h0M976 747h0M1038 696h0M1677 222h0M886 807h0M983 735h0M1467 365h0M914 786h0M1080 666h0M1732 206h0M1675 248h0M1346 468h0M943 772h0M1045 691h0M1666 227h0M1587 272h0M858 832h0M988 738h0M991 736h0M1022 712h0M1685 242h0M1369 450h0M1701 214h0M1362 456h0M1446 405h0M884 815h0M881 811h0M929 776h0M1454 376h0M978 739h0M1511 330h0M1644 237h0M1527 351h0M1714 223h0M924 779h0M1460 371h0M843 841h0M958 760h0M1495 373h0M996 731h0M1441 387h0M1034 699h0M966 754h0M1640 271h0M865 824h0M1405 420h0M1011 719h0M964 750h0M1441 408h0M1402 423h0M1054 686h0M1042 695h0"/>
<path stroke="#f0cdbb" d="M1473 361h0M985 739h0M1028 706h0M1395 435h0M1706 228h0M1730 207h0M938 769h0M1025 708h0M1385 438h0M1378 444h0M955 762h0M1543 305h0M1391 433h0M1456 398h0M1376 448h0M1711 212h0M875 817h0M1367 453h0M1486 350h0M997 729h0M1392 437h0M1481 382h0M1653 233h0M1436 410h0M1619 284h0M1414 414h0M1443 386h0M1585 274h0M1388 436h0M1422 418h0M1499 370h0M1537 344h0M1726 211h0M1499 339h0M1435 410h0M1449 382h0M986 735h0M1524 353h0M1018 713h0M1722 215h0M1602 262h0M878 815h0M1726 209h0M1689 238h0M919 787h0M1493 345h0M1381 443h0M1005 722h0M1647 236h0M951 763h0M1643 268h0M1469 389h0M1614 255h0M1657 232h0"/>
<path stroke="#f2cab5" d="M895 804h0M1418 411h0M889 807h0M1400 427h0M1576 281h0M1611 289h0M1480 356h0M1655 259h0M1411 417h0M1452 380h0M945 766h0M1454 398h0M981 740h0M1700 230h0M1504 336h0M990 733h0M1715 219h0M940 771h0M1641 240h0M1463 371h0M1473 386h0M919 785h0M968 750h0M971 747h0M1398 431h0M1450 400h0M923 782h0M977 743h0M1545 337h0M905 797h0M931 776h0M1708 224h0M1581 311h0M1440 391h0M936 773h0M1489 376h0M962 754h0M1459 374h0M1479 382h0M901 800h0M910 792h0M1413 422h0M1687 221h0M1419 417h0M1580 312h0M1438 393h0M913 790h0M1628 277h0M927 780h0M1598 298h0M1662 231h0M1710 222h0M958 757h0M1421 410h0M1497 343h0"/>
<path stroke="#f4c6af" d="M1700 217h0M1695 232h0M1475 361h0M1572 284h0M1590 304h0M1715 213h0M1722 211h0M1671 228h0M1607 292h0M1663 254h0M1436 396h0M1404 425h0M1696 219h0M1533 345h0M1674 227h0M1685 223h0M1622 281h0M1407 424h0M1440 405h0M1540 309h0M1565 290h0M1415 419h0M1586 308h0M1448 386h0M1511 360h0M1640 269h0M1624 250h0M1482 379h0M1681 241h0M1424 409h0M1704 225h0M1529 348h0M1719 214h0M1443 402h0"/>
<path stroke="#f5c1a9" d="M1646 264h0M1490 373h0M1509 334h0M1424 412h0M1489 350h0M1692 221h0M1513 358h0M1685 238h0M1460 392h0M1551 301h0M1432 402h0M1430 409h0M1552 331h0M1673 246h0M1707 217h0M1679 226h0M1428 409h0M1665 251h0M1447 388h0M1470 385h0M1434 406h0M1448 398h0M1712 217h0M1503 364h0M1634 272h0"/>
<path stroke="#f6bda2" d="M1693 231h0M1593 270h0M1685 225h0M1498 344h0M1705 219h0M1613 257h0M1453 384h0M1439 397h0M1659 234h0M1518 354h0M1629 249h0M1607 261h0M1431 405h0M1669 247h0M1460 378h0M1575 314h0M1468 385h0M1656 255h0M1480 360h0M1638 244h0M1689 232h0"/>
<path stroke="#f7b89c" d="M1475 381h0M1678 241h0M1436 400h0M1450 395h0M1455 392h0M1656 236h0M1540 338h0M1444 393h0M1468 372h0M1527 322h0M1514 332h0M1485 356h0M1537 313h0M1472 368h0M1691 224h0M1546 334h0M1558 325h0M1659 253h0M1462 387h0M1528 346h0M1601 265h0M1561 295h0M1504 362h0M1495 348h0"/>
<path stroke="#f7b396" d="M1673 242h0M1496 366h0M1664 234h0M1525 348h0M1570 316h0M1667 233h0M1700 222h0M1532 343h0M1458 382h0M1631 272h0M1476 378h0M1606 290h0M1685 233h0M1521 327h0M1640 265h0M1449 391h0M1565 320h0M1571 288h0M1583 279h0M1673 232h0M1536 315h0M1488 355h0"/>
<path stroke="#f7ad90" d="M1662 250h0M1696 225h0M1650 240h0M1640 244h0M1520 350h0M1621 255h0M1688 230h0M1517 330h0M1604 291h0M1533 318h0M1476 367h0M1561 322h0M1587 276h0M1452 389h0M1621 278h0M1678 230h0M1525 324h0M1488 370h0M1494 367h0M1618 257h0M1515 353h0M1610 261h0M1647 242h0M1593 272h0"/>
<path stroke="#f7a889" d="M1647 260h0M1464 383h0M1485 371h0M1655 253h0M1480 364h0M1473 378h0M1456 387h0M1617 280h0M1459 386h0M1674 239h0M1579 283h0M1669 235h0M1565 294h0M1471 374h0M1669 243h0M1555 325h0M1467 381h0M1467 377h0"/>
<path stroke="#f6a283" d="M1478 374h0M1496 351h0M1577 309h0M1683 231h0M1675 233h0M1505 343h0M1557 301h0M1503 358h0M1532 321h0M1518 332h0M1569 291h0M1508 341h0M1638 248h0"/>
<path stroke="#f59c7d" d="M1541 334h0M1612 283h0M1679 233h0M1615 260h0M1609 285h0M1625 273h0M1485 362h0M1487 360h0M1493 355h0M1507 356h0M1474 373h0M1499 360h0M1597 294h0M1549 328h0M1548 308h0"/>
<path stroke="#f39475" d="M1631 252h0M1510 353h0M1544 312h0M1656 241h0M1630 269h0M1538 335h0M1634 251h0M1590 299h0M1643 259h0M1626 255h0M1650 254h0M1495 362h0M1599 271h0M1477 371h0M1602 268h0"/>
<path stroke="#f18d6f" d="M1537 319h0M1575 288h0M1649 245h0M1552 325h0M1534 337h0M1664 242h0M1513 350h0M1593 296h0M1525 329h0M1553 306h0M1655 249h0M1511 341h0M1482 368h0M1526 342h0M1583 303h0M1569 313h0M1666 240h0M1555 305h0"/>
<path stroke="#ee8669" d="M1572 310h0M1662 241h0M1587 300h0M1645 256h0M1519 346h0M1592 277h0M1516 337h0M1541 317h0M1485 366h0M1560 301h0M1501 351h0M1530 325h0M1525 330h0M1644 248h0M1490 362h0"/>
<path stroke="#ec7f63" d="M1659 244h0M1608 266h0M1521 344h0M1497 355h0M1493 359h0M1564 315h0M1623 272h0M1545 328h0M1569 295h0M1578 306h0M1501 356h0M1651 250h0M1633 264h0M1607 283h0"/>
<path stroke="#e9785d" d="M1615 277h0M1528 338h0M1536 333h0M1508 351h0M1637 253h0M1558 318h0M1631 265h0M1556 320h0M1655 246h0M1508 347h0M1533 335h0M1506 351h0M1625 270h0"/>
<path stroke="#e57058" d="M1575 291h0M1646 252h0M1623 260h0M1636 260h0M1564 300h0M1567 298h0M1617 263h0M1528 330h0M1622 261h0"/>
<path stroke="#e26952" d="M1512 345h0M1553 309h0M1609 280h0M1633 262h0M1617 274h0M1593 279h0M1578 290h0M1546 315h0M1597 289h0M1570 309h0M1523 336h0M1598 276h0M1586 285h0M1642 254h0M1514 344h0M1635 256h0M1518 340h0"/>
<path stroke="#de614d" d="M1599 287h0M1547 324h0M1535 326h0M1603 283h0M1577 303h0M1542 326h0M1540 322h0M1554 319h0"/>
<path stroke="#d95847" d="M1564 311h0M1539 328h0M1629 259h0M1639 255h0M1544 319h0M1560 306h0M1591 282h0M1561 313h0M1525 336h0"/>
<path stroke="#d55042" d="M1621 268h0M1571 305h0M1603 274h0M1584 288h0M1610 270h0M1549 320h0M1605 274h0M1581 299h0"/>
<path stroke="#d0473d" d="M1613 269h0M1587 295h0M1585 296h0M1552 314h0M1534 329h0M1592 290h0M1558 310h0M1626 263h0"/>
<path stroke="#cb3e38" d="M1624 264h0M1555 315h0M1579 293h0"/>
<path stroke="#c53334" d="M1592 284h0M1611 273h0M1600 279h0M1571 300h0"/>
<path stroke="#c0282f" d="M1567 304h0M1609 274h0M1615 270h0M1577 296h0M1605 277h0M1587 288h0M1595 283h0"/>
<path stroke="#ba162b" d="M1575 298h0"/>
<path stroke="#b40426" d="M1585 292h0"/>
</g>
<g fill="none" stroke="#b0b0b0" stroke-width="3.7" stroke-dasharray="13.7 5.95" opacity="0.85">
<path d="M505.4 1295.7V61.8"/>
<path d="M886.0 1295.7V61.8"/>
<path d="M1266.6 1295.7V61.8"/>
<path d="M1647.2 1295.7V61.8"/>
<path d="M240.0 1097.3H1893.7"/>
<path d="M240.0 813.2H1893.7"/>
<path d="M240.0 529.2H1893.7"/>
<path d="M240.0 245.1H1893.7"/>
</g>
<path d="M315.1 1239.3L1818.5 117.3" fill="none" stroke="#000" stroke-width="6.8" stroke-dasharray="25.6 11.25"/>
<g fill="none" stroke="#2e2e2e" stroke-width="3.6">
<path d="M505.4 1295.7v16.5"/>
<path d="M240.0 1097.3h-17"/>
<path d="M886.0 1295.7v16.5"/>
<path d="M240.0 813.2h-17"/>
<path d="M1266.6 1295.7v16.5"/>
<path d="M240.0 529.2h-17"/>
<path d="M1647.2 1295.7v16.5"/>
<path d="M240.0 245.1h-17"/>
</g>
<rect x="240.0" y="61.8" width="1653.7" height="1233.9" fill="none" stroke="#2e2e2e" stroke-width="3.7"/>
<rect x="286.1" y="104.3" width="697.2" height="422.9" fill="#fff" stroke="#000" stroke-width="8"/>
<text class="st" x="305.5" y="233">R<tspan font-size="64" dx="1.5" dy="-31">2</tspan><tspan dx="-3" dy="31">=0.981</tspan></text>
<text class="st" x="305.5" y="349.8">RMSE=1.173<tspan dx="2">°</tspan><tspan dx="-3">C</tspan></text>
<text class="st" x="305.5" y="465.4">MAE=0.851<tspan dx="2">°</tspan><tspan dx="-3">C</tspan></text>
<text class="tk" text-anchor="end" x="207.5" y="1125.5">0</text>
<text class="tk" text-anchor="end" x="207.5" y="841.5">10</text>
<text class="tk" text-anchor="end" x="207.5" y="557.4">20</text>
<text class="tk" text-anchor="end" x="207.5" y="273.3">30</text>
<text class="tk" text-anchor="middle" x="505.4" y="1382.8">0</text>
<text class="tk" text-anchor="middle" x="886.0" y="1382.8">10</text>
<text class="tk" text-anchor="middle" x="1266.6" y="1382.8">20</text>
<text class="tk" text-anchor="middle" x="1647.2" y="1382.8">30</text>
<text class="lb" x="590.1" y="1483">in-situ temperature (<tspan font-size="101" dx="-2" dy="3.6">°</tspan><tspan dx="-5" dy="-3.6">C</tspan><tspan dx="-4">)</tspan></text>
<text class="lb" style="font-size:93.5px" transform="translate(85.6 1151) rotate(-90)">fusion temperature (<tspan font-size="101" dx="-2" dy="3.6">°</tspan><tspan dx="-5" dy="-3.6">C</tspan><tspan dx="-4">)</tspan></text>
<defs><linearGradient id="cb" x1="0" y1="1" x2="0" y2="0">
<stop offset="0" stop-color="#4058cc"/>
<stop offset="0.035" stop-color="#5068d0"/>
<stop offset="0.085" stop-color="#7088d8"/>
<stop offset="0.133" stop-color="#90a4e0"/>
<stop offset="0.166" stop-color="#a4b8e4"/>
<stop offset="0.20" stop-color="#aac0e8"/>
<stop offset="0.253" stop-color="#acc0e8"/>
<stop offset="0.32" stop-color="#b4c0e0"/>
<stop offset="0.386" stop-color="#c0c0d8"/>
<stop offset="0.452" stop-color="#cac0d0"/>
<stop offset="0.505" stop-color="#d3c2c8"/>
<stop offset="0.555" stop-color="#dcc4c2"/>
<stop offset="0.596" stop-color="#e2c0b8"/>
<stop offset="0.654" stop-color="#e0a098"/>
<stop offset="0.704" stop-color="#dd8a7e"/>
<stop offset="0.757" stop-color="#d86a5e"/>
<stop offset="0.824" stop-color="#d44a42"/>
<stop offset="0.89" stop-color="#cd2f38"/>
<stop offset="0.956" stop-color="#c5142c"/>
<stop offset="1" stop-color="#c40a26"/>
</linearGradient></defs>
<rect x="1923.2" y="62" width="55.8" height="1228.6" fill="url(#cb)" stroke="#4a68ac" stroke-width="2.6"/>
<text class="cb" x="1981.3" y="79.0">-1.0</text>
<text class="cb" x="1981.3" y="316.5">-0.8</text>
<text class="cb" x="1979.2" y="558.0">-0.6</text>
<text class="cb" x="1974.2" y="795.6">-0.4</text>
<text class="cb" x="1981.0" y="1045.7">-0.2</text>
<text class="cb" x="1979.2" y="1310.4">-0.0</text>
</svg>
</body>
</html>
